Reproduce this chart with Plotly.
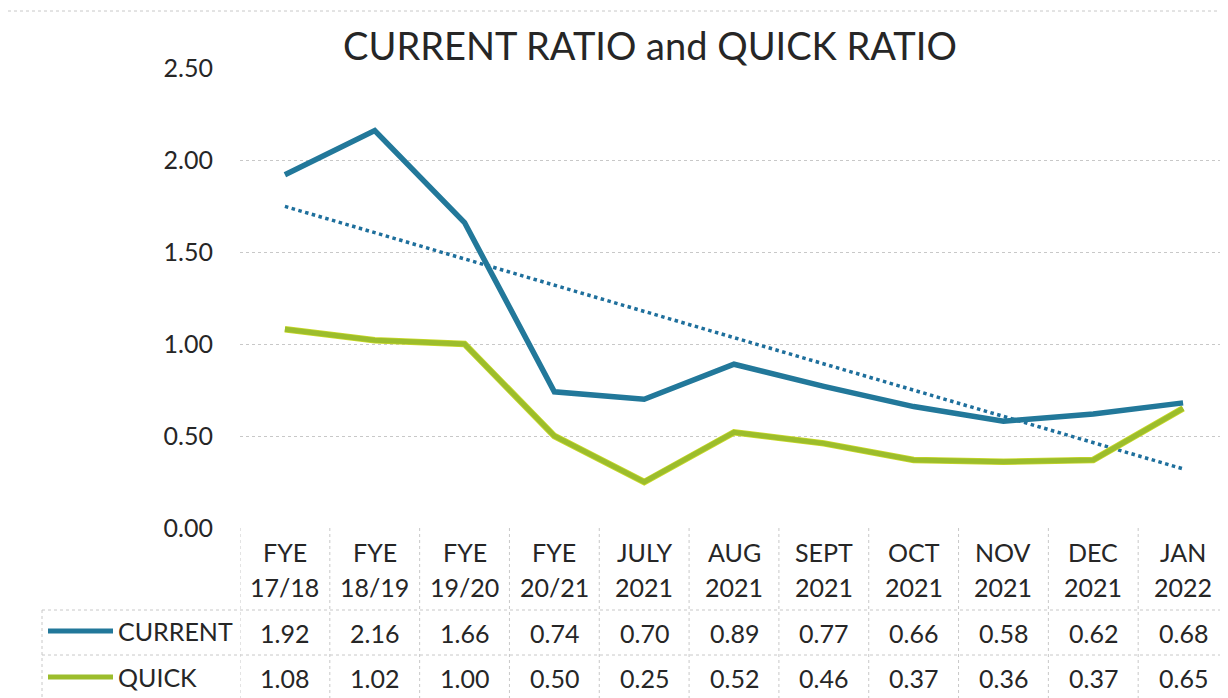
import numpy as np
import plotly.graph_objects as go

categories = ["FYE 17/18", "FYE 18/19", "FYE 19/20", "FYE 20/21", "JULY 2021",
              "AUG 2021", "SEPT 2021", "OCT 2021", "NOV 2021", "DEC 2021", "JAN 2022"]
current = [1.92, 2.16, 1.66, 0.74, 0.70, 0.89, 0.77, 0.66, 0.58, 0.62, 0.68]
quick = [1.08, 1.02, 1.00, 0.50, 0.25, 0.52, 0.46, 0.37, 0.36, 0.37, 0.65]
series_names = ["CURRENT", "QUICK"]
y_ticks = [0, 0.5, 1.0, 1.5, 2.0, 2.5]

W, H = 1228, 698
OFF = 8  # page body margin
# plot area in page pixel coordinates
PL, PR, PT, PB = 240, 1228, 68, 528
FONT = "Lato, 'Open Sans', sans-serif"
C_CUR = "#22789A"
C_QUI = "#9CBD2C"
GRID = "#C8C8C8"
TXT = "#262626"

xi = np.arange(len(categories))
slope, icpt = np.polyfit(xi, current, 1)
trend = slope * xi + icpt

fig = go.Figure()
fig.add_trace(go.Scatter(x=xi, y=trend, mode="lines",
                         line=dict(color="#1E6F9C", width=3.5, dash="dot"),
                         showlegend=False, hoverinfo="skip"))
fig.add_trace(go.Scatter(x=xi, y=quick, mode="lines",
                         line=dict(color="#C9D92A", width=6.5), showlegend=False, hoverinfo="skip"))
fig.add_trace(go.Scatter(x=xi, y=quick, mode="lines",
                         line=dict(color=C_QUI, width=5), name="QUICK", showlegend=False))
fig.add_trace(go.Scatter(x=xi, y=current, mode="lines",
                         line=dict(color=C_CUR, width=5.5), name="CURRENT", showlegend=False))

pw = PR - PL
ph = PB - PT
def px(x):
    return (x - PL) / pw
def py(y):
    return (PB - y) / ph

shapes = []
line_style = dict(color=GRID, width=1, dash="dot")
shapes.append(dict(type="line", xref="paper", yref="paper", x0=px(42), x1=px(W), y0=py(610), y1=py(610), line=line_style))
shapes.append(dict(type="line", xref="paper", yref="paper", x0=px(42), x1=px(W), y0=py(655), y1=py(655), line=line_style))
shapes.append(dict(type="line", xref="paper", yref="paper", x0=px(42), x1=px(42), y0=py(610), y1=py(H), line=line_style))
for k in range(len(categories) + 1):
    shapes.append(dict(type="line", xref="x", yref="paper", x0=k - 0.5, x1=k - 0.5, y0=0, y1=py(H), line=line_style))
shapes.append(dict(type="line", xref="paper", yref="paper", x0=px(OFF), x1=px(W), y0=py(11), y1=py(11), line=line_style))
shapes.append(dict(type="line", xref="paper", yref="paper", x0=px(48), x1=px(113), y0=py(631), y1=py(631),
                   line=dict(color=C_CUR, width=5)))
shapes.append(dict(type="line", xref="paper", yref="paper", x0=px(48), x1=px(113), y0=py(677), y1=py(677),
                   line=dict(color=C_QUI, width=5)))

FS = 25
ann = []
for i, c in enumerate(categories):
    top, bot = c.split(" ")
    ann.append(dict(x=i, y=py(552), xref="x", yref="paper", text=top, showarrow=False,
                    font=dict(size=FS, color=TXT, family=FONT), yanchor="middle", xanchor="center"))
    ann.append(dict(x=i, y=py(587), xref="x", yref="paper", text=bot, showarrow=False,
                    font=dict(size=FS, color=TXT, family=FONT), yanchor="middle", xanchor="center"))
    ann.append(dict(x=i, y=py(633), xref="x", yref="paper", text=f"{current[i]:.2f}", showarrow=False,
                    font=dict(size=FS, color=TXT, family=FONT), yanchor="middle"))
    ann.append(dict(x=i, y=py(678), xref="x", yref="paper", text=f"{quick[i]:.2f}", showarrow=False,
                    font=dict(size=FS, color=TXT, family=FONT), yanchor="middle"))
for name, yy in zip(series_names, [631, 677]):
    ann.append(dict(x=px(116), y=py(yy), xref="paper", yref="paper", text=name, showarrow=False,
                    xanchor="left", yanchor="middle", font=dict(size=FS, color=TXT, family=FONT)))

fig.update_layout(
    width=W, height=H,
    margin=dict(l=PL - OFF, r=W - (PR - OFF), t=PT - OFF, b=H - (PB - OFF)),
    paper_bgcolor="white", plot_bgcolor="white",
    title=dict(text="CURRENT RATIO and QUICK RATIO", x=(650 - OFF) / W, xanchor="center",
               y=1 - (47 - OFF) / H, yanchor="middle",
               font=dict(size=38, color=TXT, family=FONT)),
    xaxis=dict(range=[-0.5, len(categories) - 0.5], showticklabels=False, showgrid=False,
               zeroline=False, showline=False, ticks=""),
    yaxis=dict(range=[0, 2.5], tickvals=y_ticks, tickformat=".2f", showgrid=True, gridcolor=GRID,
               griddash="dot", gridwidth=1, zeroline=False, showline=False, ticks="",
               ticklabelstandoff=26, tickfont=dict(size=FS, color=TXT, family=FONT)),
    shapes=shapes, annotations=ann, showlegend=False,
)
fig.write_html("out.html")
